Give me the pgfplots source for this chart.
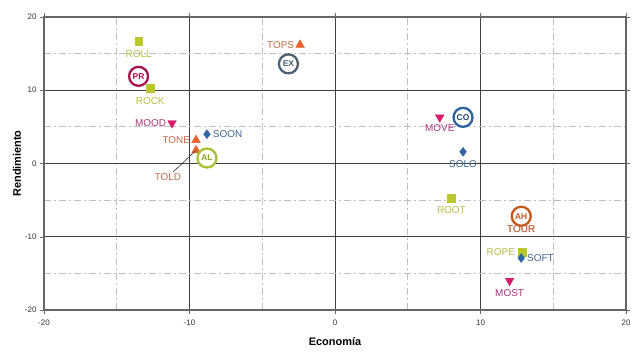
\documentclass[border=0pt]{standalone}
\usepackage{pgfplots}
\pgfplotsset{compat=1.18}
\usepackage{fontspec}
\setmainfont{Liberation Sans}
\definecolor{sqc}{HTML}{B9C72C}
\definecolor{sqt}{HTML}{B5BE45}
\definecolor{dic}{HTML}{2F66A8}
\definecolor{dit}{HTML}{3F6690}
\definecolor{tuc}{HTML}{E6622C}
\definecolor{tut}{HTML}{C26C48}
\definecolor{tdc}{HTML}{D81B6A}
\definecolor{tdt}{HTML}{A53680}
\definecolor{prc}{HTML}{A8124E}
\definecolor{exc}{HTML}{4B6272}
\definecolor{alc}{HTML}{A6C232}
\definecolor{coc}{HTML}{2A62A2}
\definecolor{ahc}{HTML}{C65A1E}
\pgfplotsset{
  lbl/.style={nodes near coords={\pgfplotspointmeta}, point meta=explicit symbolic,
    visualization depends on={value \thisrow{anc}\as\anc},
    visualization depends on={value \thisrow{sep}\as\sep},
    every node near coord/.style={anchor=\anc, inner sep=1bp, outer sep=\sep bp, text=#1, font=\fontsize{10}{11}\selectfont}},
  ring/.style 2 args={draw=none, mark=none, nodes near coords={\pgfplotspointmeta}, point meta=explicit symbolic,
    every node near coord/.style={circle, draw=#1, line width=2.3bp, fill=white, minimum size=19bp, inner sep=0pt, anchor=center, text=#2, font=\bfseries\fontsize{8.5}{9}\selectfont}},
}
\begin{document}
\begin{tikzpicture}
\begin{axis}[
  scale only axis, width=582bp, height=293bp,
  xmin=-20, xmax=20, ymin=-20, ymax=20,
  xtick={-20,-10,0,10,20}, ytick={-20,-10,0,10,20},
  minor xtick={-15,-5,5,15}, minor ytick={-15,-5,5,15},
  grid=both,
  major grid style={draw=black!75, line width=0.8bp},
  minor grid style={draw=black!25, line width=0.8bp, dash pattern=on 7bp off 3bp on 2bp off 3bp},
  axis line style={draw=black!60, line width=1.2bp},
  tick align=outside, major tick length=4bp, minor tick length=0pt,
  tick style={draw=black!60},
  tick label style={font=\fontsize{8}{9}\selectfont, text=black!80},
  xticklabel style={yshift=-2bp},
  /pgf/number format/assume math mode=true,
  xlabel={Economía}, ylabel={Rendimiento},
  every axis x label/.style={at={(axis description cs:0.5,0)}, anchor=center, yshift=-32bp, font=\bfseries\fontsize{11}{12}\selectfont},
  every axis y label/.style={at={(axis description cs:0,0.5)}, xshift=-27bp, rotate=90, anchor=center, font=\bfseries\fontsize{11}{12}\selectfont},
  clip=false,
]
\coordinate (sw) at (rel axis cs:0,0);
\coordinate (ne) at (rel axis cs:1,1);
\addplot[only marks, mark=triangle*, mark size=5bp, color=tuc, lbl=tut]
  table[x=x, y=y, meta=lab] {
x y lab anc sep
-9.55 3.2 TONE east 5
-2.4 16.2 TOPS east 5
12.8 -7.2 TOUR north 8
};
\addplot[only marks, mark=square*, mark size=3.8bp, color=sqc, lbl=sqt]
  table[x=x, y=y, meta=lab] {
x y lab anc sep
-13.5 16.7 ROLL north 8
-12.7 10.3 ROCK north 8
8.0 -4.7 ROOT north 8
12.85 -12.1 ROPE east 6
};
\addplot[only marks, mark=diamond*, mark size=4.5bp, color=dic, lbl=dit]
  table[x=x, y=y, meta=lab] {
x y lab anc sep
-8.8 4.0 SOON west 5
8.8 1.6 SOLO north 7.5
12.8 -12.9 SOFT west 5
};
\addplot[only marks, mark=triangle*, mark size=5bp, mark options={rotate=180}, color=tdc, lbl=tdt]
  table[x=x, y=y, meta=lab] {
x y lab anc sep
-11.2 5.5 MOOD east 5
7.2 6.3 MOVE north 6.5
12.0 -16.0 MOST north 7.5
};
% TOLD with leader
\addplot[only marks, mark=triangle*, mark size=5bp, color=tuc, nodes near coords={},
  every node near coord/.style={inner sep=0pt, anchor=center,
    pin={[pin distance=25bp, pin edge={black!80, line width=0.6bp}, text=tut, inner sep=1bp, font=\fontsize{10}{11}\selectfont]-122:TOLD}}]
  coordinates {(-9.55,1.8)};
% circles
\addplot[ring={prc}{prc}] table[x=x, y=y, meta=lab] {
x y lab
-13.5 11.9 PR
};
\addplot[ring={exc}{exc}] table[x=x, y=y, meta=lab] {
x y lab
-3.2 13.6 EX
};
\addplot[ring={alc}{alc!85!black}] table[x=x, y=y, meta=lab] {
x y lab
-8.8 0.75 AL
};
\addplot[ring={coc}{coc!70!black}] table[x=x, y=y, meta=lab] {
x y lab
8.8 6.3 CO
};
\addplot[ring={ahc}{ahc}] table[x=x, y=y, meta=lab] {
x y lab
12.8 -7.2 AH
};
% TOUR label over AH circle
\addplot[draw=none, mark=none, nodes near coords={\pgfplotspointmeta}, point meta=explicit symbolic,
  every node near coord/.style={anchor=north, inner sep=1bp, outer sep=8bp, text=tut, font=\fontsize{10}{11}\selectfont}]
  table[x=x, y=y, meta=lab] {
x y lab
12.8 -7.2 TOUR
};
\end{axis}
\path (sw) ++(-44bp,-47bp) coordinate (bl);
\path (ne) ++(16bp,17bp) coordinate (tr);
\pgfresetboundingbox
\path[use as bounding box] (bl) rectangle (tr);
\end{tikzpicture}
\end{document}
